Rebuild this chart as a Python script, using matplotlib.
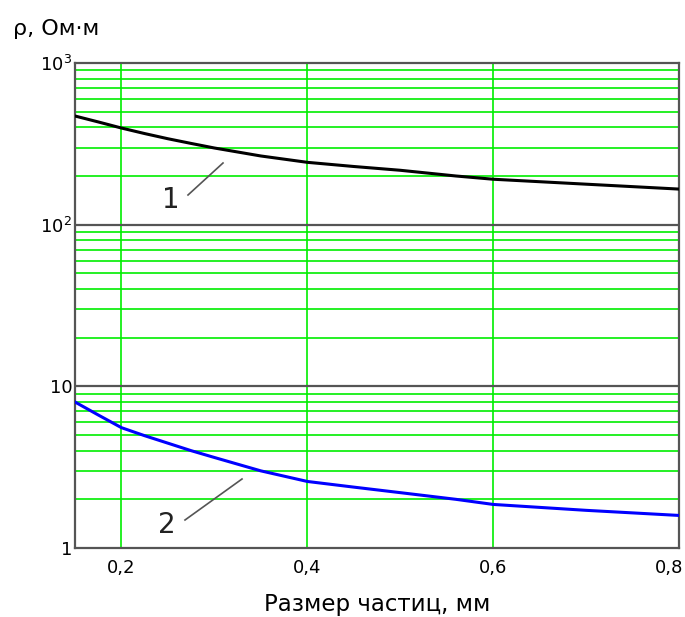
import matplotlib
matplotlib.use("Agg")
import matplotlib.pyplot as plt
import matplotlib.transforms as mtrans
from matplotlib.ticker import FixedLocator, FixedFormatter, NullFormatter

plt.rcParams['font.family'] = ['DejaVu Sans']

size_mm = [0.15, 0.175, 0.2, 0.225, 0.25, 0.275, 0.3, 0.35, 0.4, 0.45, 0.5, 0.56, 0.6, 0.7, 0.8]
rho_1 = [470, 432, 396, 366, 340, 318, 298, 266, 243, 229, 217, 200, 191, 178, 166]
rho_2 = [8.0, 6.65, 5.55, 4.95, 4.45, 4.0, 3.63, 3.0, 2.58, 2.38, 2.2, 2.0, 1.86, 1.71, 1.59]

x_ticks = [0.2, 0.4, 0.6, 0.8]
x_labels = ["0,2", "0,4", "0,6", "0,8"]
y_ticks = [1, 10, 100, 1000]
y_labels = ["1", "10", "$10^2$", "$10^3$"]

fig = plt.figure(figsize=(6.85, 6.17), dpi=100)
ax = fig.add_axes([75/685, 1-548/617, 604/685, 485/617])
ax.set_yscale('log')
ax.set_xlim(0.15, 0.8)
ax.set_ylim(1, 1000)

minor = [m * d for d in (1, 10, 100) for m in range(2, 10)]
ax.yaxis.set_minor_locator(FixedLocator(minor))
ax.yaxis.set_minor_formatter(NullFormatter())
ax.yaxis.set_major_locator(FixedLocator(y_ticks))
ax.yaxis.set_major_formatter(FixedFormatter(y_labels))
ax.set_xticks(x_ticks)
ax.set_xticklabels(x_labels)

for v in minor:
    ax.axhline(v, color='#00ee00', lw=1.2, zorder=1)
for v in [10, 100]:
    ax.axhline(v, color='#555555', lw=1.6, zorder=2)
for v in [0.2, 0.4, 0.6]:
    ax.axvline(v, color='#00ee00', lw=1.2, zorder=1)

ax.plot(size_mm, rho_1, color='black', lw=2.2, zorder=3)
ax.plot(size_mm, rho_2, color='#0000ff', lw=2.2, zorder=3)

ax.tick_params(axis='both', which='both', length=0, labelsize=13)
ax.tick_params(axis='x', pad=8)
ax.tick_params(axis='y', pad=2)
for s in ax.spines.values():
    s.set_color('#555555')
    s.set_linewidth(1.6)

# shift last x tick label slightly left so it stays inside the figure
fig.canvas.draw()
last = ax.get_xticklabels()[-1]
last.set_transform(last.get_transform() + mtrans.ScaledTranslation(-10/100, 0, fig.dpi_scale_trans))

def px(x, y):
    return (x/685, 1 - y/617)

fig.add_artist(plt.Line2D([188/685, 223/685], [1-195/617, 1-163/617], color='#555555', lw=1.2))
fig.text(*px(171, 200), "1", fontsize=20, ha='center', va='center', color='#222222')
fig.add_artist(plt.Line2D([185/685, 242/685], [1-520/617, 1-479/617], color='#555555', lw=1.2))
fig.text(*px(167, 525), "2", fontsize=20, ha='center', va='center', color='#222222')

fig.text(*px(13, 29), "ρ, Ом·м", fontsize=16, ha='left', va='center')
fig.text(*px(377, 604), "Размер частиц, мм", fontsize=16.5, ha='center', va='center')

fig.savefig("out.png", dpi=100)
